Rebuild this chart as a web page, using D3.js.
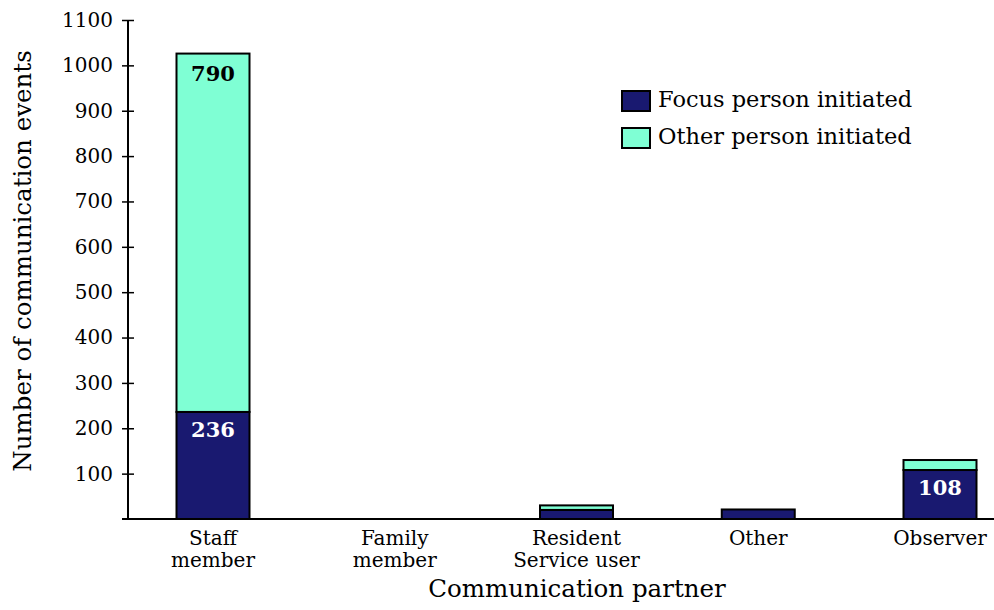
<!DOCTYPE html>
<html><head><meta charset="utf-8">
<script src="https://cdn.jsdelivr.net/npm/d3@7"></script>
<style>body{margin:0;background:#fff}svg{display:block}</style>
</head><body>
<script>
const categories = [["Staff","member"],["Family","member"],["Resident","Service user"],["Other"],["Observer"]];
const focusInitiated = [236, 0, 20, 21, 108];
const otherInitiated = [790, 0, 10, 0, 22];
const focusLabels = ["236", "", "", "", "108"];
const otherLabels = ["790", "", "", "", ""];
const yTicks = [100,200,300,400,500,600,700,800,900,1000,1100];
const seriesNames = ["Focus person initiated", "Other person initiated"];
const colors = ["#191970", "#7fffd4"];

const FONT = "DejaVu Serif";
const W = 994, H = 610;
const svg = d3.select("body").append("svg").attr("width", W).attr("height", H).attr("font-family", FONT);
const y = d3.scaleLinear().domain([0, 1100]).range([519, 20]);
const x = d3.scalePoint().domain(d3.range(categories.length)).range([213, 940]);
const bw = 73;

// bars
const g = svg.append("g");
categories.forEach((c, i) => {
  const f = focusInitiated[i], o = otherInitiated[i];
  if (f + o === 0) return;
  if (f > 0) g.append("rect").attr("x", x(i) - bw/2).attr("y", y(f)).attr("width", bw).attr("height", y(0) - y(f))
    .attr("fill", colors[0]).attr("stroke", "#000").attr("stroke-width", 2);
  if (o > 0) g.append("rect").attr("x", x(i) - bw/2).attr("y", y(f + o)).attr("width", bw).attr("height", y(f) - y(f + o))
    .attr("fill", colors[1]).attr("stroke", "#000").attr("stroke-width", 2);
  if (focusLabels[i]) g.append("text").attr("x", x(i)).attr("y", y(f) + 25).attr("text-anchor", "middle")
    .attr("font-size", 21).attr("font-weight", "bold").attr("fill", "#fff").text(focusLabels[i]);
  if (otherLabels[i]) g.append("text").attr("x", x(i)).attr("y", y(f + o) + 27).attr("text-anchor", "middle")
    .attr("font-size", 21).attr("font-weight", "bold").attr("fill", "#000").text(otherLabels[i]);
});

// y axis
const ya = svg.append("g").attr("transform", "translate(128,0)")
  .call(d3.axisLeft(y).tickValues(yTicks).tickSize(6).tickFormat(d3.format("d")));
ya.attr("font-family", FONT);
ya.select(".domain").attr("d", `M0,${y(1100)}V${y(0)}`).attr("stroke-width", 2);
ya.selectAll(".tick line").attr("x1", 6).attr("x2", -6).attr("stroke-width", 1.5);
ya.selectAll(".tick text").attr("font-size", 20).attr("x", -15).attr("fill", "#000");

// x axis
svg.append("line").attr("x1", 122).attr("x2", 994).attr("y1", y(0)).attr("y2", y(0)).attr("stroke", "#000").attr("stroke-width", 2);
categories.forEach((c, i) => {
  const t = svg.append("text").attr("x", x(i)).attr("y", 545).attr("text-anchor", "middle").attr("font-size", 20);
  c.forEach((line, j) => t.append("tspan").attr("x", x(i)).attr("dy", j === 0 ? 0 : 22).text(line));
});

svg.append("text").attr("x", 577).attr("y", 597).attr("text-anchor", "middle").attr("font-size", 24.5).text("Communication partner");
svg.append("text").attr("transform", "translate(31,261) rotate(-90)").attr("text-anchor", "middle").attr("font-size", 24.5)
  .text("Number of communication events");

// legend
seriesNames.forEach((n, i) => {
  const ly = 91 + i * 37;
  svg.append("rect").attr("x", 622).attr("y", ly).attr("width", 28).attr("height", 20)
    .attr("fill", colors[i]).attr("stroke", "#000").attr("stroke-width", 2);
  svg.append("text").attr("x", 658).attr("y", ly + 16).attr("font-size", 22.5).text(n);
});
</script>
</body></html>
